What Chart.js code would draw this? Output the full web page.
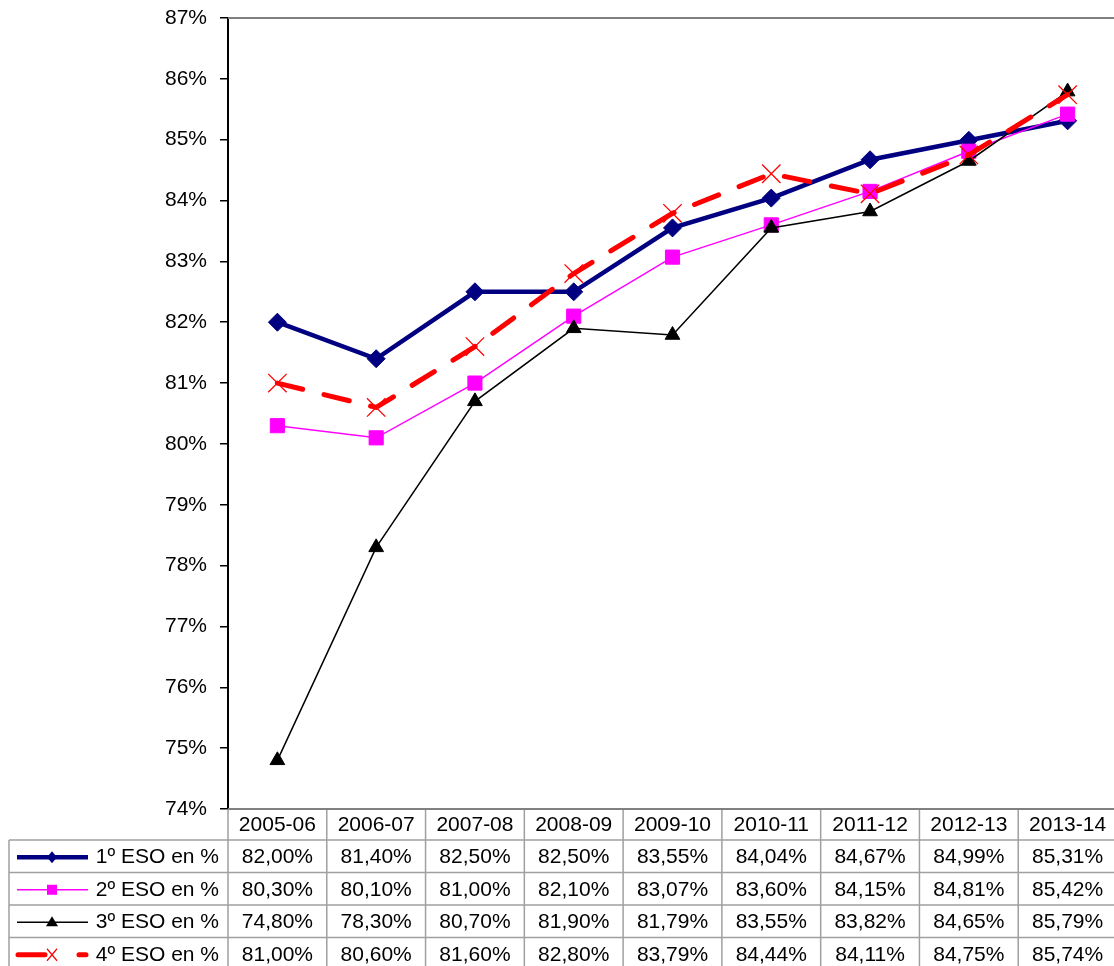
<!DOCTYPE html>
<html>
<head>
<meta charset="utf-8">
<script src="https://cdn.jsdelivr.net/npm/chart.js@4"></script>
<style>
  html, body { margin: 0; padding: 0; background: #fff; overflow: hidden; }
  #wrap { width: 1117px; height: 966px; }
</style>
</head>
<body>
<div id="wrap"><canvas id="chart" width="1117" height="966"></canvas></div>
<script>
// Cursos y tasas de promoción por nivel
const cursos = ["2005-06", "2006-07", "2007-08", "2008-09", "2009-10", "2010-11", "2011-12", "2012-13", "2013-14"];
const eso1 = [82.00, 81.40, 82.50, 82.50, 83.55, 84.04, 84.67, 84.99, 85.31];
const eso2 = [80.30, 80.10, 81.00, 82.10, 83.07, 83.60, 84.15, 84.81, 85.42];
const eso3 = [74.80, 78.30, 80.70, 81.90, 81.79, 83.55, 83.82, 84.65, 85.79];
const eso4 = [81.00, 80.60, 81.60, 82.80, 83.79, 84.44, 84.11, 84.75, 85.74];
const seriesNames = ["1º ESO en %", "2º ESO en %", "3º ESO en %", "4º ESO en %"];
const yTicks = [74, 75, 76, 77, 78, 79, 80, 81, 82, 83, 84, 85, 86, 87];

const FONT = "21px 'Liberation Sans', Arial, sans-serif";
const GRID = "#a0a0a0";

function fmt(v) {
    return v.toFixed(2).replace(".", ",") + "%";
}

// little marker shapes for the legend column
function drawKey(ctx, type, x, y, color) {
    ctx.save();
    ctx.fillStyle = color;
    ctx.strokeStyle = color;
    ctx.beginPath();
    if (type === "diamond") {
        ctx.moveTo(x, y - 6); ctx.lineTo(x + 5, y); ctx.lineTo(x, y + 6); ctx.lineTo(x - 5, y);
        ctx.closePath(); ctx.fill();
    } else if (type === "square") {
        ctx.rect(x - 5, y - 5, 10, 10); ctx.fill();
    } else if (type === "triangle") {
        ctx.moveTo(x, y - 6); ctx.lineTo(x + 6, y + 4); ctx.lineTo(x - 6, y + 4);
        ctx.closePath(); ctx.fill();
    } else if (type === "cross") {
        ctx.lineWidth = 1.2;
        ctx.moveTo(x - 5, y - 6); ctx.lineTo(x + 5, y + 6);
        ctx.moveTo(x + 5, y - 6); ctx.lineTo(x - 5, y + 6);
        ctx.stroke();
    }
    ctx.restore();
}

const frame = {
    id: "frame",
    beforeDatasetsDraw(chart) {
        const { ctx, chartArea } = chart;
        ctx.save();
        ctx.strokeStyle = "#808080";
        ctx.lineWidth = 2;
        ctx.beginPath();
        ctx.moveTo(chartArea.left, chartArea.top);
        ctx.lineTo(chartArea.right, chartArea.top);
        ctx.stroke();
        ctx.restore();
    }
};

// data table under the plot, columns follow the x scale
const dataTable = {
    id: "dataTable",
    afterDraw(chart) {
        const { ctx, chartArea } = chart;
        const x = chart.scales.x;
        const colW = x.getPixelForValue(1) - x.getPixelForValue(0);
        const top = chartArea.bottom;
        const headH = 31;
        const rowH = 32.5;
        const left = 9;
        const right = chartArea.right;
        const rows = chart.data.datasets;

        ctx.save();
        ctx.strokeStyle = GRID;
        ctx.lineWidth = 1.5;
        ctx.beginPath();
        for (let i = 0; i <= cursos.length; i++) {
            const cx = chartArea.left + i * colW;
            ctx.moveTo(cx, top);
            ctx.lineTo(cx, top + headH + rowH * rows.length);
        }
        ctx.moveTo(left, top + headH);
        ctx.lineTo(left, top + headH + rowH * rows.length);
        for (let r = 0; r <= rows.length; r++) {
            const ry = top + headH + r * rowH;
            ctx.moveTo(left, ry);
            ctx.lineTo(right, ry);
        }
        ctx.stroke();

        // x axis line
        ctx.strokeStyle = "#808080";
        ctx.lineWidth = 2;
        ctx.beginPath();
        ctx.moveTo(chartArea.left, top);
        ctx.lineTo(right, top);
        ctx.stroke();

        ctx.font = FONT;
        ctx.fillStyle = "#000";
        ctx.textAlign = "center";
        ctx.textBaseline = "middle";
        cursos.forEach((c, i) => {
            ctx.fillText(c, x.getPixelForValue(i), top + headH / 2 + 1);
        });

        rows.forEach((ds, r) => {
            const cy = top + headH + r * rowH + rowH / 2 + 1;
            ds.data.forEach((v, i) => {
                ctx.fillText(fmt(v), x.getPixelForValue(i), cy);
            });
            ctx.textAlign = "right";
            ctx.fillText(ds.label, 219, cy);
            ctx.textAlign = "center";

            // legend key
            ctx.save();
            ctx.strokeStyle = ds.borderColor;
            ctx.lineWidth = ds.borderWidth;
            ctx.lineCap = "round";
            ctx.beginPath();
            if (ds.borderDash) {
                ctx.moveTo(18, cy); ctx.lineTo(45, cy);
                ctx.moveTo(79, cy); ctx.lineTo(86, cy);
            } else {
                ctx.lineCap = "butt";
                ctx.moveTo(17, cy); ctx.lineTo(88, cy);
            }
            ctx.stroke();
            ctx.restore();
            drawKey(ctx, ds.keyShape, 52, cy, ds.keyColor);
        });
        ctx.restore();
    }
};

new Chart(document.getElementById("chart"), {
    type: "line",
    data: {
        labels: cursos,
        datasets: [
            {
                label: seriesNames[0], data: eso1, order: 4,
                borderColor: "#000080", backgroundColor: "#000080", borderWidth: 4.5,
                pointStyle: "rectRot", pointRadius: 9, pointBorderWidth: 1,
                keyShape: "diamond", keyColor: "#000080"
            },
            {
                label: seriesNames[1], data: eso2, order: 3,
                borderColor: "#ff00ff", backgroundColor: "#ff00ff", borderWidth: 1.5,
                pointStyle: "rect", pointRadius: 10, pointBorderWidth: 1,
                keyShape: "square", keyColor: "#ff00ff"
            },
            {
                label: seriesNames[2], data: eso3, order: 2,
                borderColor: "#000000", backgroundColor: "#000000", borderWidth: 1.5,
                pointStyle: "triangle", pointRadius: 8.5, pointBorderWidth: 1,
                keyShape: "triangle", keyColor: "#000000"
            },
            {
                label: seriesNames[3], data: eso4, order: 1,
                borderColor: "#ff0000", backgroundColor: "rgba(0,0,0,0)", borderWidth: 5,
                borderDash: [26, 22], borderCapStyle: "round",
                pointStyle: "crossRot", pointRadius: 13, pointBorderWidth: 1.3,
                pointBorderColor: "#ff0000",
                keyShape: "cross", keyColor: "#ff0000"
            }
        ]
    },
    options: {
        responsive: false,
        animation: false,
        devicePixelRatio: 1,
        layout: { autoPadding: false, padding: { top: 18, right: 0, bottom: 157, left: 0 } },
        elements: { line: { tension: 0 } },
        plugins: { legend: { display: false }, tooltip: { enabled: false } },
        scales: {
            x: { type: "category", offset: true, display: false },
            y: {
                min: yTicks[0],
                max: yTicks[yTicks.length - 1],
                afterFit(scale) {
                    scale.width = 228;
                    scale.paddingTop = 0;
                    scale.paddingBottom = 0;
                },
                afterBuildTicks(scale) { scale.ticks = yTicks.map(v => ({ value: v })); },
                border: { display: true, color: "#000", width: 2 },
                grid: { drawOnChartArea: false, drawTicks: true, tickLength: 8, color: "#000", lineWidth: 1.5 },
                ticks: {
                    padding: 13,
                    color: "#000",
                    font: { family: "'Liberation Sans', Arial, sans-serif", size: 21 },
                    callback: v => v + "%"
                }
            }
        }
    },
    plugins: [frame, dataTable]
});
</script>
</body>
</html>
